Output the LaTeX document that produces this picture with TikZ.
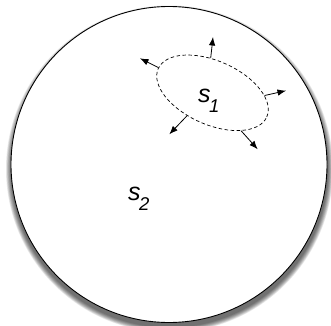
\documentclass[tikz,border=0pt]{standalone}
\usepackage{fontspec}
\setmainfont{Liberation Sans}
\usetikzlibrary{arrows.meta,shapes.geometric}
\newcommand\mylabel[2]{{\fontsize{25}{25}\selectfont\itshape #1\kern-1.5pt\raisebox{-10pt}{\fontsize{18.5}{18.5}\selectfont #2}}}
\tikzset{
  outer/.style={circle,draw=black,line width=0.9pt,fill=white,minimum size=316pt,inner sep=0pt},
  region/.style={ellipse,draw=black,dashed,dash pattern=on 3.5pt off 2.5pt,line width=0.7pt,minimum width=118.8pt,minimum height=63.6pt,inner sep=0pt,rotate=-24},
  outarrow/.style={-{Latex[length=8.5pt,width=6.5pt]},line width=0.8pt},
  lbl/.style={anchor=base west,inner sep=0pt}
}
\begin{document}
\begin{tikzpicture}[x=1pt,y=1pt]
\useasboundingbox (0,0) rectangle (331,325);
% soft shadow
\foreach \i in {1,...,10}{
  \fill[black,opacity=0.08] (169.5,156) circle ({158+\i*0.55});
}
\node[outer] (world) at (169,160.5) {};
\node[region] (s1region) at (212.5,232.2) {};
\coordinate (t1) at (213,288);
\coordinate (t2) at (140,266.7);
\coordinate (t3) at (286,234.3);
\coordinate (t4) at (169.3,190.7);
\coordinate (t5) at (257.7,175.7);
\draw[outarrow] (s1region.117) -- (t1);
\draw[outarrow] (s1region.179) -- (t2);
\draw[outarrow] (s1region.21) -- (t3);
\draw[outarrow] (s1region.246) -- (t4);
\draw[outarrow] (s1region.331) -- (t5);
\node[lbl] (s1) at (198,223) {\mylabel{s}{1}};
\node[lbl] (s2) at (128,125) {\mylabel{s}{2}};
\end{tikzpicture}
\end{document}
